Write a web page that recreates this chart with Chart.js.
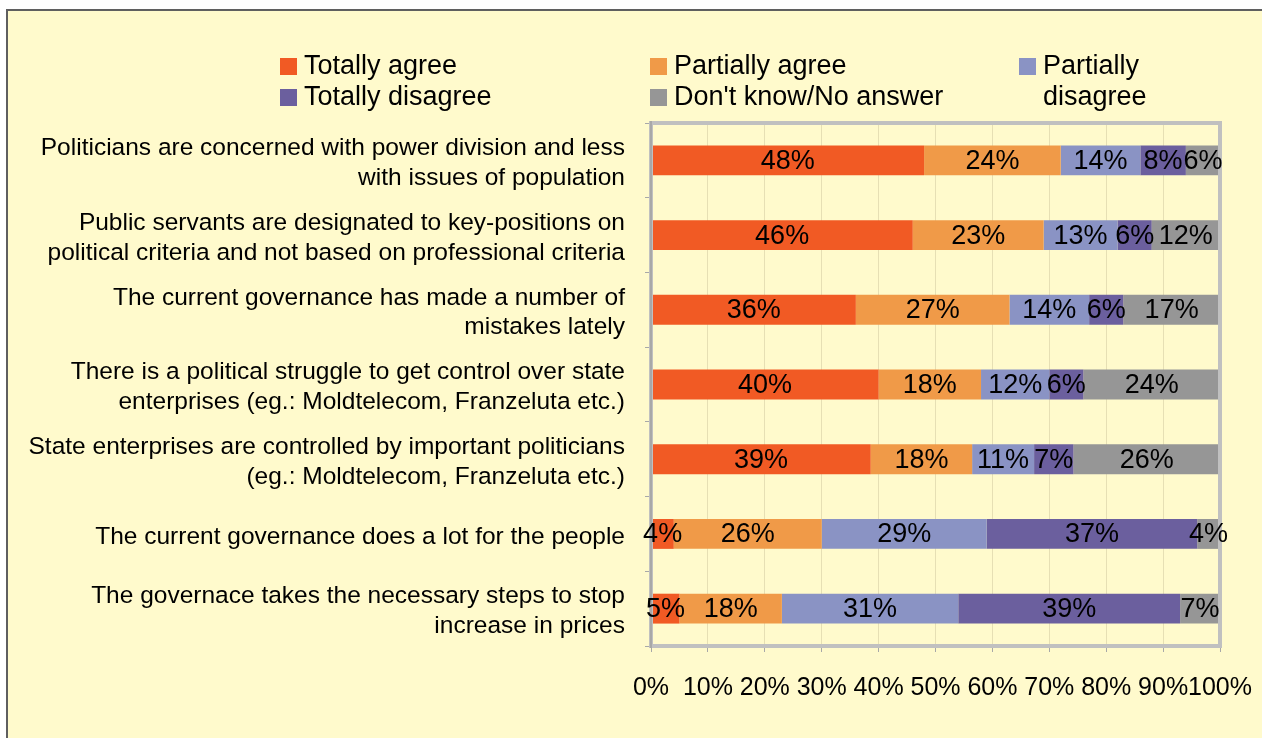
<!DOCTYPE html>
<html>
<head>
<meta charset="utf-8">
<script src="https://cdn.jsdelivr.net/npm/chart.js@4.4.0/dist/chart.umd.min.js"></script>
<style>
html, body { margin: 0; padding: 0; background: #fff; overflow: hidden; }
</style>
</head>
<body>
<canvas id="myChart" width="1262" height="738"></canvas>
<script>
// categories (two lines each, like the original)
const categories = [
  ["Politicians are concerned with power division and less", "with issues of population"],
  ["Public servants are designated to key-positions on", "political criteria and not based on professional criteria"],
  ["The current governance has made a number of", "mistakes lately"],
  ["There is a political struggle to get control over state", "enterprises (eg.: Moldtelecom, Franzeluta etc.)"],
  ["State enterprises are controlled by important politicians", "(eg.: Moldtelecom, Franzeluta etc.)"],
  "The current governance does a lot for the people",
  ["The governace takes the necessary steps to stop", "increase in prices"]
];
const totallyAgree      = [48, 46, 36, 40, 39, 4, 5];
const partiallyAgree    = [24, 23, 27, 18, 18, 26, 18];
const partiallyDisagree = [14, 13, 14, 12, 11, 29, 31];
const totallyDisagree   = [8, 6, 6, 6, 7, 37, 39];
const dontKnow          = [6, 12, 17, 24, 26, 4, 7];
const xTicks = [0, 10, 20, 30, 40, 50, 60, 70, 80, 90, 100];

const seriesNames = ["Totally agree", "Partially agree", "Partially disagree", "Totally disagree", "Don't know/No answer"];
const seriesColors = ["#F15A24", "#F09A48", "#8A93C4", "#6B5F9E", "#969696"];
const allSeries = [totallyAgree, partiallyAgree, partiallyDisagree, totallyDisagree, dontKnow];

const FONT = "Arial, 'Liberation Sans', sans-serif";

// 100% stacked: normalise each row
let totals = categories.map((c, i) => allSeries.reduce((s, a) => s + a[i], 0));

const datasets = allSeries.map((arr, k) => ({
  label: seriesNames[k],
  raw: arr,
  data: arr.map((v, i) => v / totals[i] * 100),
  backgroundColor: seriesColors[k],
  borderWidth: 0,
  categoryPercentage: 1,
  barPercentage: 0.4
}));

const bgPlugin = {
  id: 'bg',
  beforeDraw(chart) {
    const ctx = chart.ctx;
    ctx.save();
    ctx.fillStyle = '#ffffff';
    ctx.fillRect(0, 0, chart.width, chart.height);
    ctx.fillStyle = '#FFFACC';
    ctx.fillRect(7, 10, chart.width, chart.height);
    ctx.strokeStyle = '#5F5F5F';
    ctx.lineWidth = 2;
    ctx.beginPath();
    ctx.moveTo(7, chart.height);
    ctx.lineTo(7, 10);
    ctx.lineTo(chart.width, 10);
    ctx.stroke();
    ctx.restore();
  }
};

const labelPlugin = {
  id: 'barLabels',
  afterDatasetsDraw(chart) {
    const ctx = chart.ctx;
    const a = chart.chartArea;
    ctx.save();
    // plot frame
    ctx.strokeStyle = '#C0C0C0';
    ctx.lineWidth = 4;
    ctx.strokeRect(a.left, a.top, a.right - a.left, a.bottom - a.top);
    ctx.strokeStyle = '#A8A8A8';
    ctx.lineWidth = 2;
    ctx.beginPath();
    ctx.moveTo(a.left, a.top - 2);
    ctx.lineTo(a.left, a.bottom + 2);
    ctx.stroke();

    ctx.font = "27px " + FONT;
    ctx.fillStyle = '#000';
    ctx.textAlign = 'center';
    ctx.textBaseline = 'middle';
    chart.data.datasets.forEach((ds, k) => {
      chart.getDatasetMeta(k).data.forEach((bar, i) => {
        const cx = (bar.x + bar.base) / 2;
        ctx.fillText(ds.raw[i] + '%', cx, bar.y + 1);
      });
    });

    // legend, 3 columns
    const cols = [280, 650, 1019];
    const rows = [67, 98];
    ctx.font = "27px " + FONT;
    ctx.textAlign = 'left';
    chart.data.datasets.forEach((ds, k) => {
      const x = cols[k % 3];
      const y = rows[Math.floor(k / 3)];
      ctx.fillStyle = ds.backgroundColor;
      ctx.fillRect(x, y - 9, 17, 17);
      ctx.fillStyle = '#000';
      if (k === 2) {
        ctx.fillText("Partially", x + 24, y);
        ctx.fillText("disagree", x + 24, y + 31);
      } else {
        ctx.fillText(ds.label, x + 24, y);
      }
    });
    ctx.restore();
  }
};

const config = {
  type: 'bar',
  data: { labels: categories, datasets: datasets },
  options: {
    indexAxis: 'y',
    responsive: false,
    animation: false,
    layout: { padding: { top: 123, right: 42, left: 0, bottom: 0 } },
    plugins: { legend: { display: false }, tooltip: { enabled: false } },
    scales: {
      x: {
        stacked: true,
        min: 0,
        max: 100,
        afterBuildTicks: s => { s.ticks = xTicks.map(v => ({ value: v })); },
        afterFit: s => { s.height = 92; s.paddingLeft = 0; s.paddingRight = 0; },
        ticks: {
          callback: v => v + '%',
          font: { family: FONT, size: 25 },
          color: '#000',
          padding: 21,
          maxRotation: 0,
          autoSkip: false
        },
        grid: { color: '#E6DFB4', lineWidth: 1, tickLength: 6, tickColor: '#A8A8A8' },
        border: { display: false }
      },
      y: {
        stacked: true,
        afterFit: s => { s.width = 651; s.paddingTop = 0; s.paddingBottom = 0; },
        ticks: {
          font: { family: FONT, size: 24.5, lineHeight: 1.22 },
          color: '#000',
          padding: 20,
          labelOffset: 3,
          autoSkip: false
        },
        grid: { drawOnChartArea: false, offset: true, tickLength: 6, tickColor: '#A8A8A8' },
        border: { display: false }
      }
    }
  },
  plugins: [bgPlugin, labelPlugin]
};

let myChart = new Chart(document.getElementById('myChart'), config);
</script>
</body>
</html>
